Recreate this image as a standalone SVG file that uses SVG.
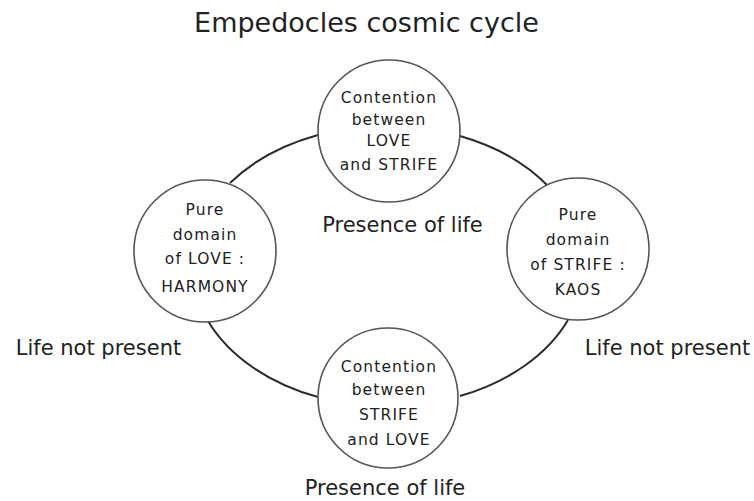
<svg xmlns="http://www.w3.org/2000/svg" width="754" height="501" viewBox="0 0 754 501">
<style>
text{font-family:"DejaVu Sans","Liberation Sans",sans-serif;fill:#222;text-anchor:middle}
.title{font-size:27px}
.lab{font-size:21px}
.nt{font-size:15.5px;letter-spacing:1.1px}
.node circle{fill:#fff;stroke:#555;stroke-width:1.6}
.conn path{fill:none;stroke:#2a2a2a;stroke-width:2}
</style>
<rect width="754" height="501" fill="#fff"/>
<text class="title" x="366.5" y="32">Empedocles cosmic cycle</text>
<g class="conn" id="connectors">
<path d="M230,183 A196,141 0 0 1 318,135"/>
<path d="M460,136 A196,141 0 0 1 548,186"/>
<path d="M568,320 A196,141 0 0 1 460,396"/>
<path d="M318,397 A196,141 0 0 1 208,321"/>
</g>
<g class="node" id="node-top">
<circle cx="389" cy="131" r="71"/>
<text class="nt" x="389" y="103">Contention</text>
<text class="nt" x="389" y="125">between</text>
<text class="nt" x="389" y="146">LOVE</text>
<text class="nt" x="389" y="170">and STRIFE</text>
</g>
<g class="node" id="node-left">
<circle cx="205" cy="251" r="71"/>
<text class="nt" x="205" y="215">Pure</text>
<text class="nt" x="205" y="240">domain</text>
<text class="nt" x="205" y="264">of LOVE :</text>
<text class="nt" x="205" y="292">HARMONY</text>
</g>
<g class="node" id="node-right">
<circle cx="578" cy="249" r="71"/>
<text class="nt" x="578" y="220">Pure</text>
<text class="nt" x="578" y="245">domain</text>
<text class="nt" x="578" y="270">of STRIFE :</text>
<text class="nt" x="578" y="295">KAOS</text>
</g>
<g class="node" id="node-bottom">
<circle cx="388" cy="398" r="70"/>
<text class="nt" x="389" y="372">Contention</text>
<text class="nt" x="389" y="395">between</text>
<text class="nt" x="389" y="420">STRIFE</text>
<text class="nt" x="389" y="445">and LOVE</text>
</g>
<text class="lab" x="402.5" y="232">Presence of life</text>
<text class="lab" x="385" y="495">Presence of life</text>
<text class="lab" x="98.5" y="355">Life not present</text>
<text class="lab" x="667.5" y="355">Life not present</text>
</svg>
